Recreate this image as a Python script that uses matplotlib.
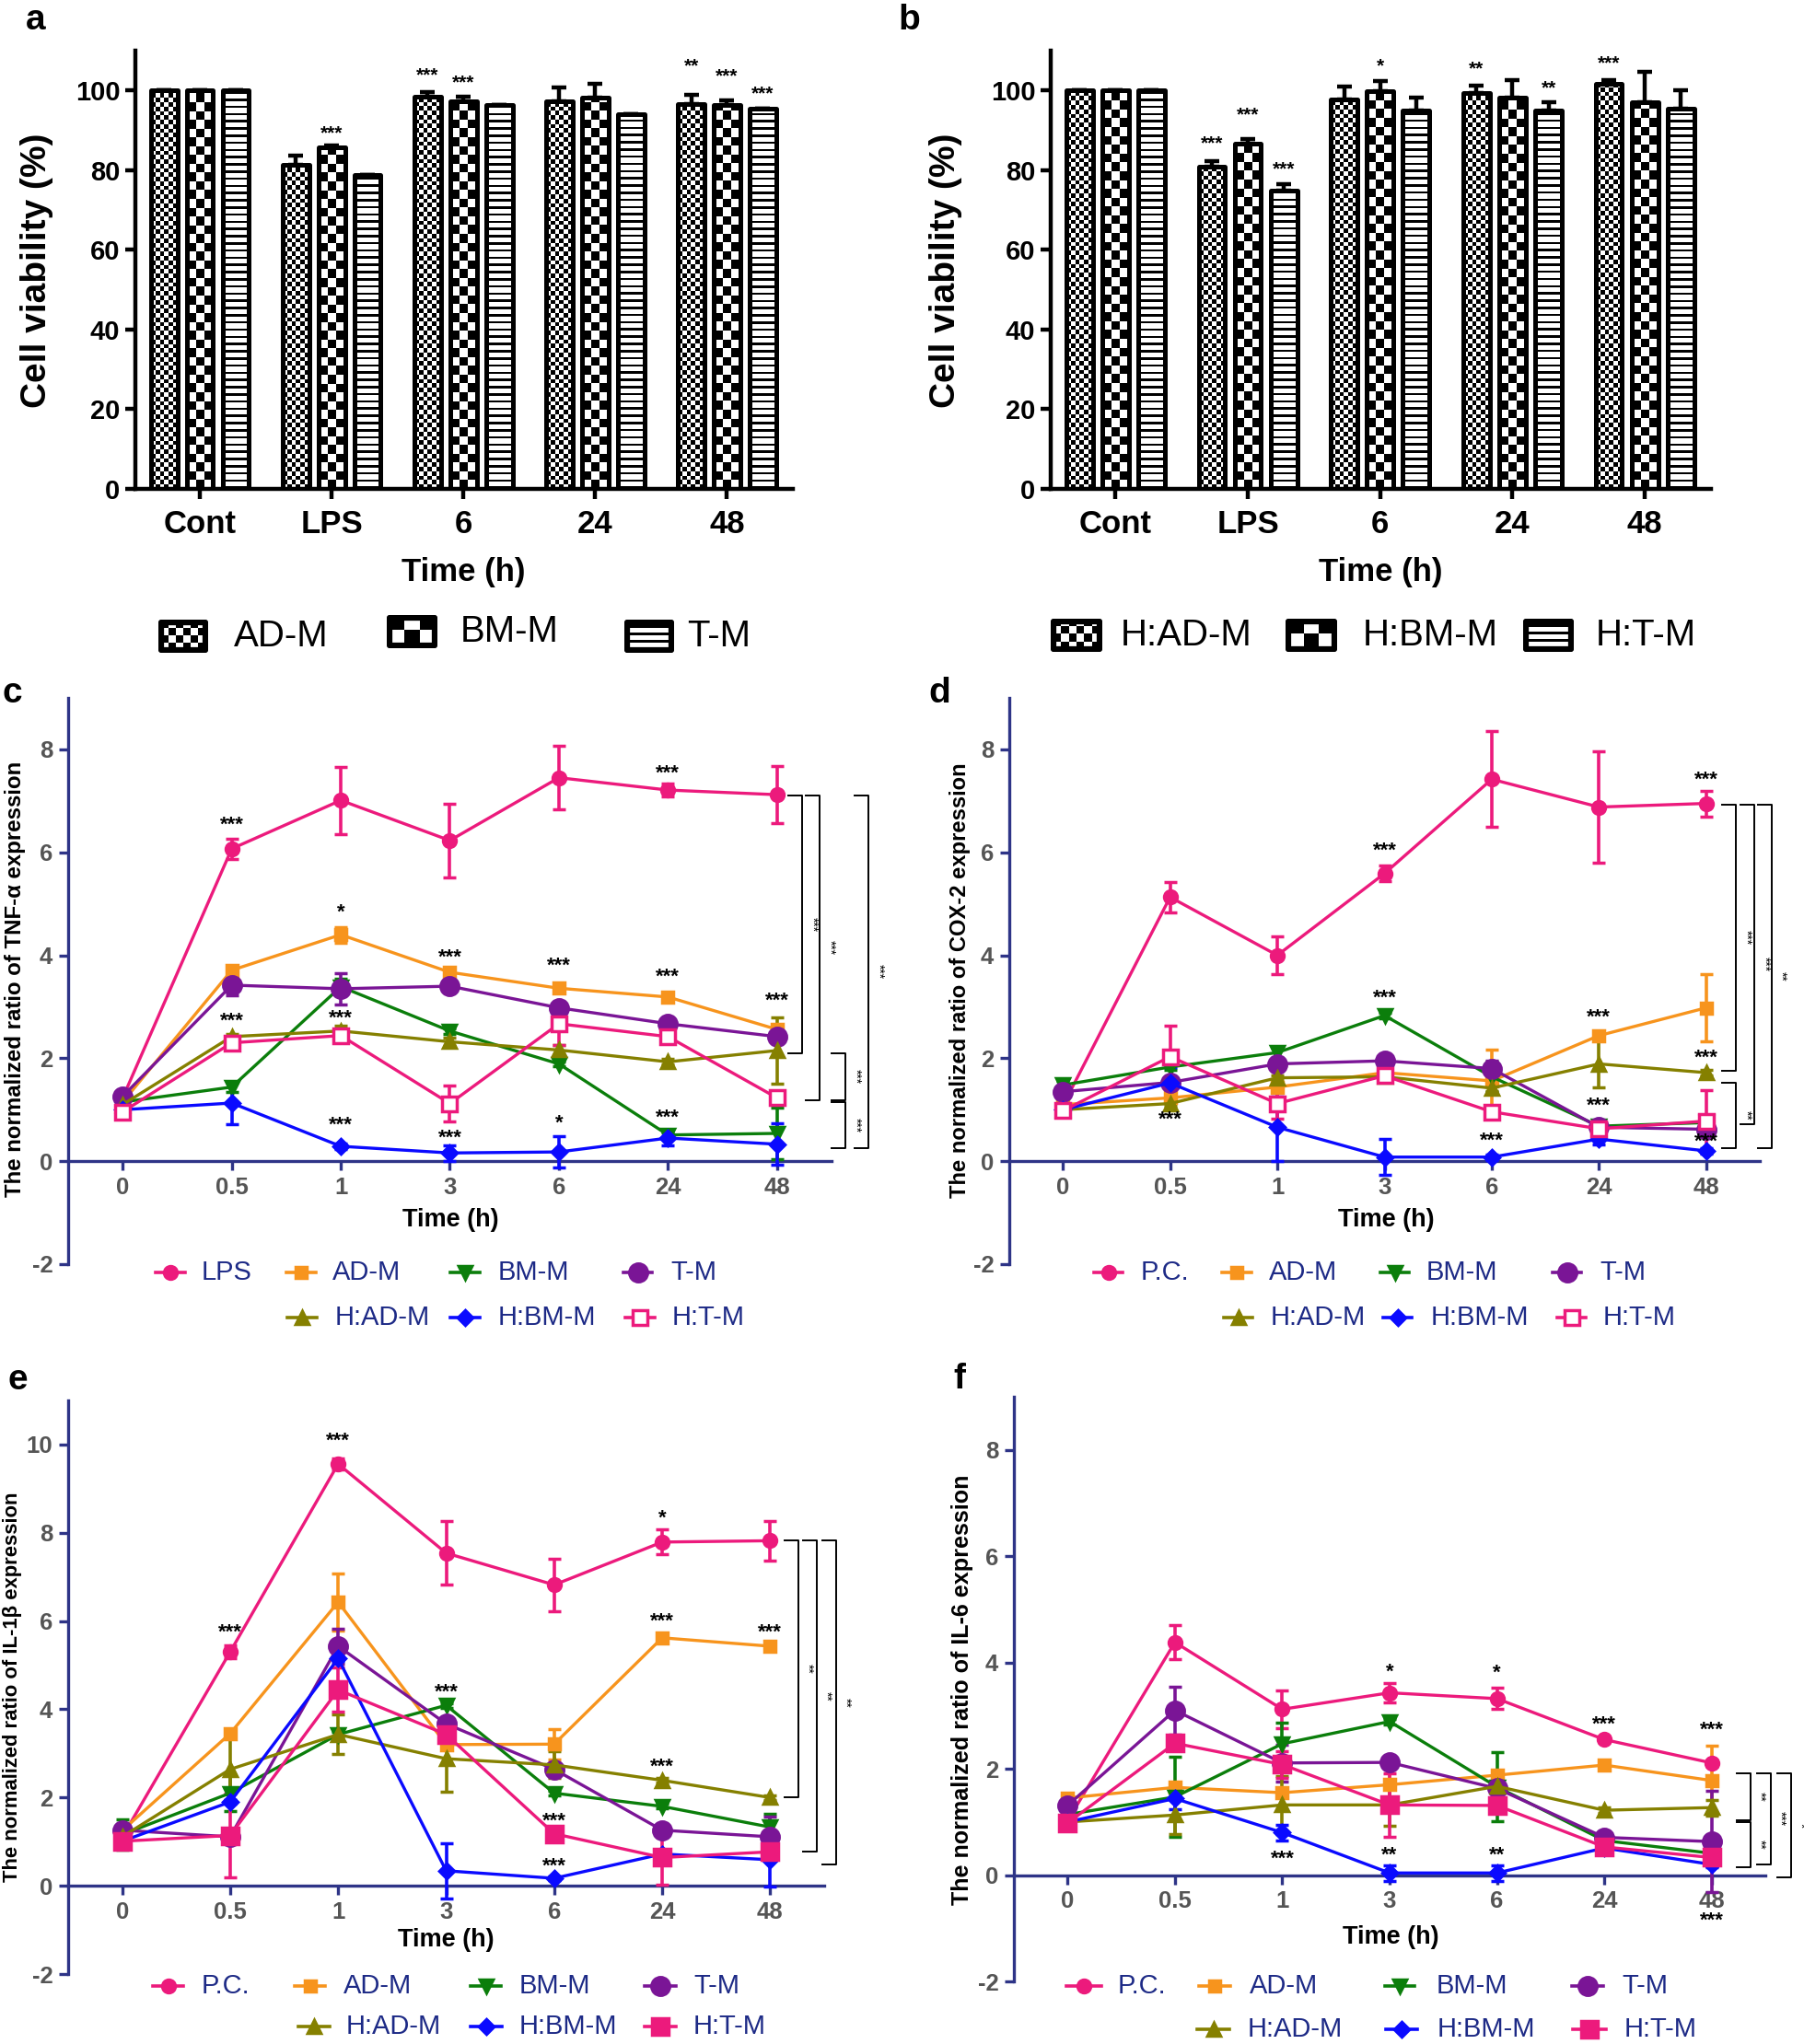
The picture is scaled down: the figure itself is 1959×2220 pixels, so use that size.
import matplotlib
matplotlib.use("Agg")
import matplotlib.pyplot as plt
import numpy as np
from matplotlib.lines import Line2D
from matplotlib.patches import Rectangle
from matplotlib import font_manager as fm

# ---------------------------------------------------------------- data
bar_groups = ["Cont", "LPS", "6", "24", "48"]

# panel a - viability, conditioned media
via_a = {
    "AD-M": [100, 81.4, 98.5, 97.4, 96.6],
    "BM-M": [100, 85.7, 97.4, 98.3, 96.4],
    "T-M":  [100, 78.7, 96.3, 94.1, 95.4],
}
via_a_err = {
    "AD-M": [0, 2.3, 1.1, 3.4, 2.3],
    "BM-M": [0, 0.6, 1.0, 3.4, 1.1],
    "T-M":  [0, 0, 0, 0, 0],
}
# panel b - viability, hypoxic conditioned media
via_b = {
    "H:AD-M": [100, 80.8, 97.7, 99.3, 101.6],
    "H:BM-M": [100, 86.7, 99.9, 98.2, 97.1],
    "H:T-M":  [100, 74.9, 95.0, 95.0, 95.4],
}
via_b_err = {
    "H:AD-M": [0, 1.4, 3.2, 2.0, 1.0],
    "H:BM-M": [0, 1.2, 2.4, 4.3, 7.7],
    "H:T-M":  [0, 1.6, 3.1, 2.1, 4.7],
}
# (group, series, y, label)
via_a_stars = [(1, 1, 89.3, "***"), (2, 0, 103.9, "***"), (2, 1, 102.0, "***"),
               (4, 0, 106.0, "**"), (4, 1, 103.6, "***"), (4, 2, 99.2, "***")]
via_b_stars = [(1, 0, 86.7, "***"), (1, 1, 93.9, "***"), (1, 2, 80.3, "***"),
               (2, 1, 106.0, "*"), (3, 0, 105.3, "**"), (3, 2, 100.5, "**"),
               (4, 0, 106.8, "***")]

times = ["0", "0.5", "1", "3", "6", "24", "48"]

# panel c - TNF-alpha
tnf = {
    "LPS":    [1.23, 6.07, 7.01, 6.23, 7.45, 7.21, 7.12],
    "AD-M":   [1.15, 3.71, 4.40, 3.67, 3.36, 3.19, 2.56],
    "BM-M":   [1.15, 1.44, 3.39, 2.53, 1.89, 0.51, 0.54],
    "T-M":    [1.26, 3.42, 3.35, 3.40, 2.98, 2.67, 2.42],
    "H:AD-M": [1.10, 2.42, 2.53, 2.32, 2.16, 1.93, 2.15],
    "H:BM-M": [1.00, 1.13, 0.29, 0.16, 0.18, 0.45, 0.33],
    "H:T-M":  [0.96, 2.30, 2.44, 1.12, 2.67, 2.42, 1.23],
}
tnf_err = {
    "LPS":    [0.05, 0.20, 0.65, 0.72, 0.62, 0.12, 0.56],
    "AD-M":   [0.05, 0.08, 0.15, 0.05, 0.05, 0.05, 0.05],
    "BM-M":   [0.05, 0.10, 0.15, 0.05, 0.05, 0.05, 0.50],
    "T-M":    [0.05, 0.20, 0.30, 0.05, 0.10, 0.05, 0.10],
    "H:AD-M": [0.05, 0.05, 0.10, 0.08, 0.10, 0.05, 0.65],
    "H:BM-M": [0.05, 0.42, 0.05, 0.15, 0.30, 0.15, 0.40],
    "H:T-M":  [0.05, 0.10, 0.10, 0.35, 0.42, 0.10, 0.10],
}
tnf_stars = [(1, 6.52, "***"), (2, 4.82, "*"), (3, 3.96, "***"), (4, 3.79, "***"),
             (5, 7.53, "***"), (5, 3.57, "***"), (6, 3.12, "***"), (1, 2.71, "***"),
             (2, 2.77, "***"), (2, 0.70, "***"), (3, 0.45, "***"), (4, 0.74, "*"),
             (5, 0.84, "***")]
tnf_brackets = [(6.23, 7.11, 2.09, "***"), (6.39, 7.11, 1.19, "***"), (6.84, 7.11, 0.26, "***"),
                (6.63, 2.09, 1.19, "***"), (6.63, 1.15, 0.26, "***")]

# panel d - COX-2
cox = {
    "P.C.":   [1.08, 5.13, 4.00, 5.59, 7.42, 6.88, 6.95],
    "AD-M":   [1.10, 1.23, 1.44, 1.72, 1.56, 2.44, 2.98],
    "BM-M":   [1.48, 1.83, 2.11, 2.83, 1.64, 0.68, 0.75],
    "T-M":    [1.35, 1.53, 1.89, 1.95, 1.80, 0.66, 0.62],
    "H:AD-M": [1.00, 1.12, 1.62, 1.64, 1.42, 1.89, 1.72],
    "H:BM-M": [1.00, 1.52, 0.66, 0.08, 0.08, 0.43, 0.20],
    "H:T-M":  [0.98, 2.03, 1.12, 1.66, 0.96, 0.63, 0.78],
}
cox_err = {
    "P.C.":   [0.05, 0.30, 0.37, 0.15, 0.93, 1.08, 0.25],
    "AD-M":   [0.05, 0.05, 0.05, 0.05, 0.60, 0.05, 0.66],
    "BM-M":   [0.08, 0.05, 0.10, 0.05, 0.30, 0.05, 0.05],
    "T-M":    [0.05, 0.10, 0.10, 0.05, 0.15, 0.05, 0.10],
    "H:AD-M": [0.05, 0.05, 0.05, 0.05, 0.05, 0.45, 0.05],
    "H:BM-M": [0.05, 0.30, 0.66, 0.35, 0.05, 0.10, 0.05],
    "H:T-M":  [0.05, 0.60, 0.30, 0.05, 0.05, 0.05, 0.60],
}
cox_stars = [(6, 7.41, "***"), (3, 6.03, "***"), (3, 3.16, "***"), (5, 2.79, "***"),
             (6, 2.01, "***"), (1, 0.80, "***"), (5, 1.07, "***"), (4, 0.39, "***"),
             (6, 0.37, "***")]
cox_brackets = [(6.28, 6.93, 1.75, "***"), (6.45, 6.93, 0.72, "***"),
                (6.61, 6.93, 0.25, "**"), (6.28, 1.52, 0.25, "**")]

# panel e - IL-1beta
il1b = {
    "P.C.":   [1.10, 5.30, 9.56, 7.54, 6.82, 7.79, 7.82],
    "AD-M":   [1.25, 3.45, 6.43, 3.20, 3.21, 5.62, 5.43],
    "BM-M":   [1.16, 2.10, 3.43, 4.09, 2.10, 1.80, 1.33],
    "T-M":    [1.26, 1.11, 5.43, 3.67, 2.64, 1.26, 1.11],
    "H:AD-M": [1.11, 2.64, 3.43, 2.88, 2.74, 2.39, 2.00],
    "H:BM-M": [1.01, 1.90, 5.15, 0.34, 0.17, 0.72, 0.59],
    "H:T-M":  [1.01, 1.14, 4.44, 3.43, 1.18, 0.64, 0.77],
}
il1b_err = {
    "P.C.":   [0.05, 0.15, 0.12, 0.72, 0.60, 0.28, 0.45],
    "AD-M":   [0.05, 0.05, 0.65, 0.05, 0.35, 0.05, 0.05],
    "BM-M":   [0.35, 0.40, 0.05, 0.05, 0.05, 0.05, 0.30],
    "T-M":    [0.05, 0.05, 0.40, 0.05, 0.10, 0.05, 0.45],
    "H:AD-M": [0.05, 0.70, 0.45, 0.75, 0.30, 0.05, 0.05],
    "H:BM-M": [0.05, 0.05, 0.05, 0.62, 0.05, 0.05, 0.60],
    "H:T-M":  [0.05, 0.95, 0.50, 0.05, 0.05, 0.62, 0.05],
}
il1b_stars = [(2, 10.07, "***"), (1, 5.74, "***"), (5, 8.33, "*"), (5, 5.98, "***"),
              (6, 5.74, "***"), (3, 4.39, "***"), (5, 2.69, "***"), (4, 1.46, "***"),
              (4, 0.44, "***")]
il1b_brackets = [(6.26, 7.82, 2.0, "**"), (6.43, 7.82, 0.77, "**"), (6.61, 7.82, 0.49, "**")]

# panel f - IL-6
il6 = {
    "P.C.":   [1.02, 4.38, 3.12, 3.43, 3.32, 2.55, 2.11],
    "AD-M":   [1.45, 1.65, 1.55, 1.70, 1.88, 2.07, 1.78],
    "BM-M":   [1.14, 1.47, 2.47, 2.89, 1.66, 0.65, 0.41],
    "T-M":    [1.31, 3.10, 2.11, 2.12, 1.63, 0.71, 0.63],
    "H:AD-M": [1.00, 1.13, 1.32, 1.32, 1.67, 1.22, 1.27],
    "H:BM-M": [1.00, 1.44, 0.80, 0.04, 0.04, 0.51, 0.20],
    "H:T-M":  [0.98, 2.48, 2.08, 1.32, 1.31, 0.53, 0.33],
}
il6_err = {
    "P.C.":   [0.05, 0.32, 0.35, 0.18, 0.20, 0.05, 0.05],
    "AD-M":   [0.05, 0.05, 0.05, 0.35, 0.05, 0.05, 0.65],
    "BM-M":   [0.05, 0.75, 0.40, 0.05, 0.65, 0.05, 0.05],
    "T-M":    [0.05, 0.45, 0.35, 0.05, 0.05, 0.05, 0.95],
    "H:AD-M": [0.05, 0.35, 0.55, 0.40, 0.05, 0.05, 0.15],
    "H:BM-M": [0.05, 0.20, 0.15, 0.15, 0.15, 0.05, 0.05],
    "H:T-M":  [0.05, 0.05, 0.25, 0.60, 0.05, 0.05, 0.05],
}
il6_stars = [(3, 3.81, "*"), (4, 3.80, "*"), (5, 2.83, "***"), (6, 2.73, "***"),
             (2, 0.30, "***"), (3, 0.37, "**"), (4, 0.37, "**"), (6, -0.86, "***")]
il6_brackets = [(6.36, 1.92, 1.04, "**"), (6.36, 1.00, 0.14, "**"),
                (6.55, 1.92, 0.20, "***"), (6.74, 1.92, -0.04, "*")]

# ---------------------------------------------------------------- style
avail = {f.name for f in fm.fontManager.ttflist}
NARROW = "Liberation Sans Narrow" if "Liberation Sans Narrow" in avail else "Liberation Sans"
plt.rcParams["font.family"] = ["Liberation Sans", "DejaVu Sans"]
plt.rcParams["axes.unicode_minus"] = False

PINK, ORANGE, GREEN, PURPLE = "#ec1a7c", "#f7941d", "#0b7e0b", "#7a1596"
OLIVE, BLUE = "#858000", "#0a0aff"
NAVY = "#2e3487"
LEGTXT = "#1d2a86"
TICKGREY = "#555555"

STYLE = {
    "LPS":    dict(color=PINK, marker="o", ms=10),
    "P.C.":   dict(color=PINK, marker="o", ms=10),
    "AD-M":   dict(color=ORANGE, marker="s", ms=9),
    "BM-M":   dict(color=GREEN, marker="v", ms=10),
    "T-M":    dict(color=PURPLE, marker="o", ms=14),
    "H:AD-M": dict(color=OLIVE, marker="^", ms=10),
    "H:BM-M": dict(color=BLUE, marker="D", ms=8),
    "H:T-M":  dict(color=PINK, marker="s", ms=13),
}

W, H = 1959, 2220
fig = plt.figure(figsize=(W / 100, H / 100), dpi=100)


def axes_px(l, t, r, b):
    return fig.add_axes([l / W, 1 - b / H, (r - l) / W, (b - t) / H])


def ftext(x, y, s, **kw):
    return fig.text(x / W, 1 - y / H, s, **kw)


def fill_pattern(ax, x0, y0, w, h, kind, ppx, ppy, clip):
    wpx, hpx = w * ppx, h * ppy
    if kind in ("fine", "coarse"):
        ncols = 6 if kind == "fine" else 3
        cell = wpx / ncols
        nrows = int(np.ceil(hpx / cell)) + 1
        arr = np.indices((nrows, ncols)).sum(0) % 2
        ext = (x0, x0 + w, y0, y0 + nrows * cell / ppy)
    else:
        step = 2.6
        nrows = int(np.ceil(hpx / step)) + 1
        arr = (np.arange(nrows) % 3 == 0).astype(float)[:, None] * np.ones((1, 4))
        ext = (x0, x0 + w, y0, y0 + nrows * step / ppy)
    im = ax.imshow(arr, cmap="gray_r", vmin=0, vmax=1, extent=ext, origin="lower",
                   aspect="auto", interpolation="nearest", zorder=2)
    im.set_clip_path(clip)


OFFS = (-0.272, 0.0, 0.272)
BW = 0.2
KINDS = ("fine", "coarse", "stripes")


def bar_panel(ax, means, errs, stars):
    xlim, ymax = (-0.49, 4.5), 110
    pos = ax.get_position()
    ppx = pos.width * W / (xlim[1] - xlim[0])
    ppy = pos.height * H / ymax
    x = np.arange(len(bar_groups))
    for k, name in enumerate(means):
        vals = means[name]
        bars = ax.bar(x + OFFS[k], vals, BW, facecolor="none", edgecolor="black",
                      linewidth=3.6, joinstyle="round", zorder=4)
        for b in bars:
            fill_pattern(ax, b.get_x(), 0, b.get_width(), b.get_height(), KINDS[k], ppx, ppy, b)
        e = np.array(errs[name], float)
        ax.errorbar(x + OFFS[k], vals, yerr=[np.zeros_like(e), e], fmt="none", ecolor="black",
                    elinewidth=3.2, capsize=6, capthick=3.2, zorder=3)
    for g, s, y, lab in stars:
        ax.text(g + OFFS[s], y, lab, ha="center", va="center", fontsize=15,
                family=NARROW, fontweight="bold")
    ax.set_xlim(*xlim)
    ax.set_ylim(0, ymax)
    for sp in ("top", "right"):
        ax.spines[sp].set_visible(False)
    for sp in ("left", "bottom"):
        ax.spines[sp].set_linewidth(3.2)
    ax.set_yticks(np.arange(0, 101, 20))
    ax.set_xticks(x, bar_groups)
    ax.tick_params(axis="both", direction="out", length=8, width=3.2, color="black")
    ax.tick_params(axis="y", labelsize=21, pad=4)
    ax.tick_params(axis="x", labelsize=25, pad=8)
    for lab in ax.get_xticklabels() + ax.get_yticklabels():
        lab.set_family(NARROW)
        lab.set_fontweight("bold")


def bar_legend(entries):
    for (l, t, r, b), kind, label, tx in entries:
        lax = axes_px(l, t, r, b)
        lax.set_xlim(0, 1)
        lax.set_ylim(0, 1)
        lax.axis("off")
        rect = Rectangle((0.06, 0.08), 0.88, 0.84, fill=False, edgecolor="black",
                         linewidth=4.5, joinstyle="round", zorder=4)
        lax.add_patch(rect)
        fill_pattern(lax, 0.06, 0.08, 0.88, 0.84, kind, r - l, b - t, rect)
        lax.set_xlim(0, 1)
        lax.set_ylim(0, 1)
        ftext(tx, (t + b) / 2, label, fontsize=29, family=NARROW, va="center", ha="left")


def line_panel(ax, means, errs, stars, brackets, ytop, yticks, open_htm):
    x = np.arange(len(times))
    for name in means:
        st = STYLE[name]
        mfc = st["color"]
        ms = st["ms"]
        if name == "H:T-M" and open_htm:
            mfc, ms = "white", 11
        ax.errorbar(x, means[name], yerr=errs[name], color=st["color"], lw=2.4,
                    marker=st["marker"], ms=ms, mfc=mfc, mec=st["color"], mew=2.5,
                    elinewidth=2.6, capsize=5, capthick=2.6, zorder=3)
    for xi, y, lab in stars:
        ax.text(xi, y, lab, ha="center", va="center", fontsize=16,
                family=NARROW, fontweight="bold", zorder=5)
    for xb, y1, y2, lab in brackets:
        ax.plot([xb - 0.13, xb, xb, xb - 0.13], [y1, y1, y2, y2], color="black",
                lw=1.4, clip_on=False, solid_joinstyle="round")
        ax.text(xb + 0.09, (y1 + y2) / 2, lab, rotation=-90, fontsize=10,
                ha="center", va="center", clip_on=False)
    ax.set_xlim(-0.5, 6.5)
    ax.set_ylim(-2, ytop)
    for sp in ("top", "right"):
        ax.spines[sp].set_visible(False)
    ax.spines["bottom"].set_position(("data", 0))
    for sp in ("left", "bottom"):
        ax.spines[sp].set_linewidth(2.4)
        ax.spines[sp].set_color(NAVY)
    ax.set_xticks(x, times)
    ax.set_yticks(yticks)
    ax.tick_params(axis="both", direction="out", length=7, width=2.4, color=NAVY,
                   labelcolor=TICKGREY, labelsize=18.5, pad=5)
    for lab in ax.get_xticklabels() + ax.get_yticklabels():
        lab.set_family(NARROW)
        lab.set_fontweight("bold")


def line_legend(entries, rows_y, open_htm):
    for (name, row, x0, x1, tx) in entries:
        st = STYLE[name]
        y = 1 - rows_y[row] / H
        fig.add_artist(Line2D([x0 / W, x1 / W], [y, y], transform=fig.transFigure,
                              color=st["color"], lw=2.6))
        mfc, ms = st["color"], st["ms"]
        if name == "H:T-M" and open_htm:
            mfc, ms = "white", 11
        fig.add_artist(Line2D([(x0 + x1) / 2 / W], [y], transform=fig.transFigure,
                              marker=st["marker"], ms=ms, mfc=mfc, mec=st["color"],
                              mew=2.5, color=st["color"]))
        fig.text(tx / W, y, name, fontsize=21, family=NARROW, color=LEGTXT,
                 ha="left", va="center")


def fit_ylabel(x, y, s, target):
    t = ftext(x, y, s, rotation=90, ha="center", va="center", fontsize=15, fontweight="bold")
    fig.canvas.draw()
    h = t.get_window_extent().height
    t.set_fontsize(15 * target / h)
    return t


# ---------------------------------------------------------------- panels a, b
ax_a = axes_px(147, 55, 861, 531)
bar_panel(ax_a, via_a, via_a_err, via_a_stars)
ax_b = axes_px(1141, 55, 1858, 531)
bar_panel(ax_b, via_b, via_b_err, via_b_stars)

for xc in (40, 1027):
    ftext(xc, 294, "Cell viability (%)", rotation=90, ha="center", va="center",
          fontsize=28, fontweight="bold")
for xc in (503, 1499):
    ftext(xc, 622, "Time (h)", ha="center", va="center", fontsize=25,
          family=NARROW, fontweight="bold")

bar_legend([((172, 673, 226, 709), "fine", "AD-M", 254),
            ((420, 668, 475, 704), "coarse", "BM-M", 500),
            ((678, 673, 732, 709), "stripes", "T-M", 746)])
bar_legend([((1141, 672, 1197, 708), "fine", "H:AD-M", 1217),
            ((1396, 672, 1452, 708), "coarse", "H:BM-M", 1480),
            ((1654, 672, 1709, 708), "stripes", "H:T-M", 1733)])

# ---------------------------------------------------------------- panels c-f
ax_c = axes_px(74, 758, 903, 1373)
line_panel(ax_c, tnf, tnf_err, tnf_stars, tnf_brackets, 9, [-2, 0, 2, 4, 6, 8], True)
ax_d = axes_px(1096, 758, 1911, 1373)
line_panel(ax_d, cox, cox_err, cox_stars, cox_brackets, 9, [-2, 0, 2, 4, 6, 8], True)
ax_e = axes_px(74, 1521, 895, 2144)
line_panel(ax_e, il1b, il1b_err, il1b_stars, il1b_brackets, 11, [-2, 0, 2, 4, 6, 8, 10], False)
ax_f = axes_px(1101, 1517, 1917, 2152)
line_panel(ax_f, il6, il6_err, il6_stars, il6_brackets, 9, [-2, 0, 2, 4, 6, 8], False)

for xc, yc in ((489, 1325), (1505, 1325), (484, 2107), (1510, 2104)):
    ftext(xc, yc, "Time (h)", ha="center", va="center", fontsize=19.5,
          family=NARROW, fontweight="bold")

fit_ylabel(17, 1063, "The normalized ratio of TNF-\u03b1 expression", 477)
fit_ylabel(1043, 1065, "The normalized ratio of COX-2 expression", 475)
fit_ylabel(14, 1832, "The normalized ratio of IL-1\u03b2 expression", 425)
fit_ylabel(1045, 1835, "The normalized ratio of IL-6 expression", 470)

line_legend([("LPS", 0, 169, 201, 219), ("AD-M", 0, 311, 343, 361),
             ("BM-M", 0, 489, 521, 541), ("T-M", 0, 677, 708, 728),
             ("H:AD-M", 1, 312, 344, 364), ("H:BM-M", 1, 489, 521, 541),
             ("H:T-M", 1, 679, 711, 730)], (1382, 1431), True)
line_legend([("P.C.", 0, 1188, 1219, 1239), ("AD-M", 0, 1327, 1359, 1378),
             ("BM-M", 0, 1499, 1530, 1549), ("T-M", 0, 1686, 1717, 1737),
             ("H:AD-M", 1, 1329, 1360, 1380), ("H:BM-M", 1, 1502, 1533, 1554),
             ("H:T-M", 1, 1691, 1722, 1741)], (1382, 1431), True)
line_legend([("P.C.", 0, 166, 199, 219), ("AD-M", 0, 320, 353, 373),
             ("BM-M", 0, 511, 544, 564), ("T-M", 0, 700, 734, 753),
             ("H:AD-M", 1, 324, 358, 376), ("H:BM-M", 1, 511, 545, 564),
             ("H:T-M", 1, 700, 734, 753)], (2157, 2201), False)
line_legend([("P.C.", 0, 1158, 1196, 1214), ("AD-M", 0, 1302, 1336, 1357),
             ("BM-M", 0, 1504, 1536, 1560), ("T-M", 0, 1707, 1741, 1761),
             ("H:AD-M", 1, 1300, 1335, 1355), ("H:BM-M", 1, 1505, 1539, 1561),
             ("H:T-M", 1, 1708, 1744, 1764)], (2157, 2204), False)

# ---------------------------------------------------------------- panel letters
for lab, xl, yb in (("a", 28, 32), ("b", 975, 32), ("c", 3, 763),
                    ("d", 1008, 763), ("e", 9, 1509), ("f", 1035, 1508)):
    ftext(xl, yb, lab, ha="left", va="baseline", fontsize=28, fontweight="bold")

fig.savefig("out.png", dpi=100)
